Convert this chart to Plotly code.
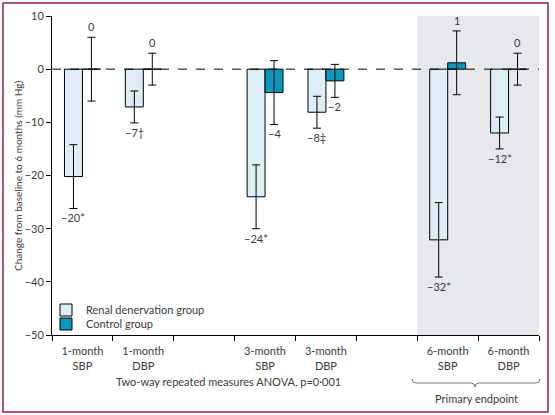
import plotly.graph_objects as go

# ---------------- data ----------------
categories = ["1-month<br>SBP", "1-month<br>DBP", "", "3-month<br>SBP", "3-month<br>DBP", "",
              "6-month<br>SBP", "6-month<br>DBP"]
slot_x = [0, 1, 3, 4, 6, 7]          # occupied category slots
renal_values = [-20.2, -7.1, -24.0, -8.1, -32.1, -12.0]
renal_errors = [6, 3, 6, 3, 7, 3]
renal_labels = ["−20*", "−7†", "−24*", "−8‡", "−32*", "−12*"]
control_values = [0, 0, -4.4, -2.2, 1.2, 0]
control_errors = [6, 3, 6, 3.1, 6, 3]
control_labels = ["0", "0", "−4", "−2", "1", "0"]
y_ticks = [10, 0, -10, -20, -30, -40, -50]
anova_text = "Two-way repeated measures ANOVA, p=0·001"
endpoint_text = "Primary endpoint"
y_title = "Change from baseline to 6 months (mm Hg)"

RENAL = "#DDEEF6"
CONTROL = "#0A97BD"
TXT = "#3a3a3a"
FONT = "Lato"

# geometry helpers (pixel -> paper)
L, R, T, B = 52, 539, 16, 335
def px(x):
    return (x - L) / (R - L)
def py(y):
    return (B - y) / (B - T)

fig = go.Figure()
fig.add_trace(go.Bar(
    x=slot_x, y=renal_values, name="Renal denervation group", legend="legend",
    marker=dict(color=RENAL, line=dict(color="black", width=1)),
    error_y=dict(type="data", array=renal_errors, color="black", thickness=1, width=4),
))
fig.add_trace(go.Bar(
    x=slot_x, y=control_values, name="Control group", legend="legend2",
    marker=dict(color=CONTROL, line=dict(color="black", width=1)),
    error_y=dict(type="data", array=control_errors, color="black", thickness=1, width=4),
))

# value labels placed beyond the error-bar ends
offset = 0.148
for vals, errs, labs, dx in [(renal_values, renal_errors, renal_labels, -offset),
                             (control_values, control_errors, control_labels, offset)]:
    for x, v, e, t in zip(slot_x, vals, errs, labs):
        if v >= 0 and not t.startswith("−"):
            fig.add_annotation(x=x + dx, y=v + e, text=t, showarrow=False, xanchor="center",
                               yanchor="bottom", yshift=2, font=dict(size=11, color=TXT, family=FONT))
        else:
            fig.add_annotation(x=x + dx, y=v - e, text=t, showarrow=False, xanchor="center",
                               yanchor="top", yshift=-1, font=dict(size=11, color=TXT, family=FONT))

shapes = []
shapes.append(dict(type="rect", xref="x", yref="paper", x0=5.5, x1=7.5, y0=0, y1=1,
                   fillcolor="#E6E8EB", line=dict(width=0), layer="below"))
shapes.append(dict(type="line", xref="paper", yref="y", x0=0, x1=1, y0=0, y1=0,
                   line=dict(color="black", width=1, dash="dash"), layer="above"))
shapes.append(dict(type="rect", xref="paper", yref="paper", x0=px(3), x1=px(548), y0=py(412), y1=py(3),
                   line=dict(color="#8E1F52", width=1.5)))
path = (f"M{px(412)},{py(379)} Q{px(412)},{py(383)} {px(416)},{py(383)} "
        f"L{px(471)},{py(383)} Q{px(475)},{py(383)} {px(475)},{py(387)} "
        f"Q{px(475)},{py(383)} {px(479)},{py(383)} L{px(536)},{py(383)} "
        f"Q{px(540)},{py(383)} {px(540)},{py(379)}")
shapes.append(dict(type="path", xref="paper", yref="paper", path=path,
                   line=dict(color="#777777", width=1)))

fig.add_annotation(xref="paper", yref="paper", x=px(228), y=py(381), text=anova_text,
                   xanchor="center", yanchor="middle",
                   showarrow=False, font=dict(size=11, color=TXT, family=FONT))
fig.add_annotation(xref="paper", yref="paper", x=px(476), y=py(398), text=endpoint_text,
                   xanchor="center", yanchor="middle",
                   showarrow=False, font=dict(size=11, color=TXT, family=FONT))
fig.add_annotation(xref="paper", yref="paper", x=px(18), y=py(176), text=y_title, textangle=-90,
                   xanchor="center", yanchor="middle",
                   showarrow=False, font=dict(size=10, color=TXT, family=FONT))

legend_common = dict(xanchor="left", yanchor="middle", bgcolor="rgba(0,0,0,0)",
                     font=dict(size=11, color=TXT, family=FONT), itemwidth=30)
fig.update_layout(
    width=555, height=415,
    margin=dict(l=L, r=555 - R, t=T, b=415 - B, autoexpand=False),
    paper_bgcolor="white", plot_bgcolor="white",
    barmode="group", bargap=0.41, bargroupgap=0,
    shapes=shapes,
    showlegend=True,
    legend=dict(x=px(46), y=py(310), **legend_common),
    legend2=dict(x=px(46), y=py(324), **legend_common),
    font=dict(family=FONT, color=TXT),
)
fig.update_xaxes(range=[-0.5, 7.5], tickmode="array", tickvals=list(range(len(categories))),
                 ticktext=categories, ticks="", showline=True, linecolor="black", linewidth=1,
                 showgrid=False, zeroline=False, tickfont=dict(size=11, color=TXT, family=FONT),
                 ticklabelstandoff=6,
                 minor=dict(tickmode="array", tickvals=[i - 0.5 for i in range(len(categories) + 1)],
                            ticks="outside", ticklen=5, tickcolor="black", showgrid=False))
fig.update_yaxes(range=[-50, 10], tickmode="array", tickvals=y_ticks, ticks="outside", ticklen=5,
                 tickcolor="black", showline=True, linecolor="black", linewidth=1,
                 showgrid=False, zeroline=False, tickfont=dict(size=11, color=TXT, family=FONT))

fig.write_html("out.html", config={"displayModeBar": False},
               post_script="document.body.style.margin='0';")
